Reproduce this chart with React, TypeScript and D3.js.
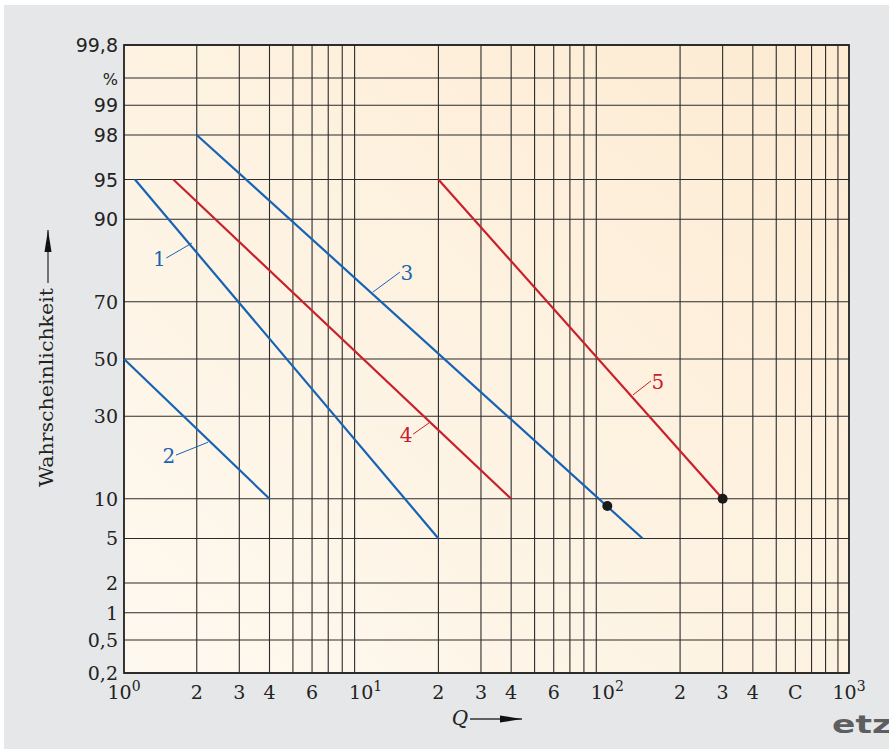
import React from "react";
import * as d3 from "d3";

// probability ticks (%) on the normal-probability axis
const yTicks = [0.2, 0.5, 1, 2, 5, 10, 30, 50, 70, 90, 95, 98, 99, 99.5, 99.8];
const yLabels = ["0,2", "0,5", "1", "2", "5", "10", "30", "50", "70", "90", "95", "98", "99", "%", "99,8"];
const xGrid = [2, 3, 4, 5, 6, 7, 8, 9, 20, 30, 40, 50, 60, 70, 80, 90, 200, 300, 400, 500, 600, 700, 800, 900];
const xTickVals = [1, 2, 3, 4, 6, 10, 20, 30, 40, 60, 100, 200, 300, 400, 600, 1000];
const xTickText = ["10^0", "2", "3", "4", "6", "10^1", "2", "3", "4", "6", "10^2", "2", "3", "4", "C", "10^3"];

// lines: [Q, %] endpoints, label and leader anchor in data units
const series = [
  { id: "1", color: "blue", pts: [[1.11, 95], [20, 5]], label: [1.4, 80.3], anchor: [1.91, 85.6] },
  { id: "2", color: "blue", pts: [[1, 50], [4, 10]], label: [1.535, 17], anchor: [2.23, 22.3] },
  { id: "3", color: "blue", pts: [[2, 98], [140, 5]], label: [14.8, 76.5], anchor: [10.7, 73] },
  { id: "4", color: "red", pts: [[1.6, 95], [40, 10]], label: [14.7, 22.3], anchor: [18.3, 27.9] },
  { id: "5", color: "red", pts: [[20, 95], [300, 10]], label: [162, 39.2], anchor: [127.7, 37.1] },
];
const dots = [[100, 8.9], [300, 10]];

const colors: Record<string, string> = { blue: "#1763b3", red: "#c8202c" };

// inverse normal CDF (Acklam)
function probit(p: number) {
  const a = [-39.69683028665376, 220.9460984245205, -275.9285104469687, 138.357751867269, -30.66479806614716, 2.506628277459239];
  const b = [-54.47609879822406, 161.5858368580409, -155.6989798598866, 66.80131188771972, -13.28068155288572];
  const c = [-0.007784894002430293, -0.3223964580411365, -2.400758277161838, -2.549732539343734, 4.374664141464968, 2.938163982698783];
  const d = [0.007784695709041462, 0.3224671290700398, 2.445134137142996, 3.754408661907416];
  const pl = 0.02425;
  if (p < pl) {
    const q = Math.sqrt(-2 * Math.log(p));
    return (((((c[0] * q + c[1]) * q + c[2]) * q + c[3]) * q + c[4]) * q + c[5]) / ((((d[0] * q + d[1]) * q + d[2]) * q + d[3]) * q + 1);
  }
  if (p > 1 - pl) {
    const q = Math.sqrt(-2 * Math.log(1 - p));
    return -(((((c[0] * q + c[1]) * q + c[2]) * q + c[3]) * q + c[4]) * q + c[5]) / ((((d[0] * q + d[1]) * q + d[2]) * q + d[3]) * q + 1);
  }
  const q = p - 0.5;
  const r = q * q;
  return ((((((a[0] * r + a[1]) * r + a[2]) * r + a[3]) * r + a[4]) * r + a[5]) * q) / (((((b[0] * r + b[1]) * r + b[2]) * r + b[3]) * r + b[4]) * r + 1);
}

const App = () => {
  const left = 124, right = 849, top = 45, bottom = 673;
  const x = d3.scaleLog().domain([1, 1000]).range([left, right]);
  const z = d3.scaleLinear().domain([probit(0.002), probit(0.998)]).range([bottom, top]);
  const y = (v: number) => z(probit(v / 100));
  const line = d3.line<number[]>().x((d) => x(d[0])).y((d) => y(d[1]));

  const serif = "'DejaVu Serif', serif";
  const sans = "'DejaVu Sans', sans-serif";

  return (
    <svg width={889} height={749} style={{ position: "fixed", left: 0, top: 0 }}>
      <defs>
        <linearGradient id="bg" x1="0" y1="1" x2="1" y2="0">
          <stop offset="0" stopColor="#fef9f0" />
          <stop offset="1" stopColor="#fdebd2" />
        </linearGradient>
        <marker id="ah" viewBox="0 0 22 8" refX="22" refY="4" markerWidth="22" markerHeight="8" markerUnits="userSpaceOnUse" orient="auto">
          <path d="M0,0.5 L22,4 L0,7.5 Z" fill="#111" />
        </marker>
      </defs>
      <rect width={889} height={749} fill="#fff" />
      <rect x={4} y={5} width={885} height={744} fill="#e6e7e9" />
      <rect x={left} y={top} width={right - left} height={bottom - top} fill="url(#bg)" />

      {xGrid.map((v, i) => (
        <line key={"vx" + i} x1={x(v)} x2={x(v)} y1={top} y2={bottom} stroke="#2b2b2b" strokeWidth={1.1} />
      ))}
      {yTicks.map((v, i) => (
        <line key={"hy" + i} x1={left} x2={right} y1={y(v)} y2={y(v)} stroke="#2b2b2b" strokeWidth={1.1} />
      ))}
      <rect x={left} y={top} width={right - left} height={bottom - top} fill="none" stroke="#222" strokeWidth={1.8} />

      {series.map((s) => {
        const lx = x(s.label[0]);
        const ly = y(s.label[1]);
        const ax = x(s.anchor[0]);
        const ay = y(s.anchor[1]);
        return (
          <g key={s.id}>
            <path d={line(s.pts) || ""} fill="none" stroke={colors[s.color]} strokeWidth={2.2} />
            <line x1={lx + (ax > lx ? 7 : -7)} y1={ly - 8} x2={ax} y2={ay} stroke={colors[s.color]} strokeWidth={1} />
            <text x={lx} y={ly} fill={colors[s.color]} fontFamily={serif} fontSize={20} textAnchor="middle">
              {s.id}
            </text>
          </g>
        );
      })}
      {dots.map((d, i) => (
        <circle key={"d" + i} cx={x(d[0])} cy={y(d[1])} r={5} fill="#1a1a1a" />
      ))}

      {yTicks.map((v, i) => (
        <text
          key={"yl" + i}
          x={left - 6}
          y={y(v) + 7}
          textAnchor="end"
          fontFamily={v >= 90 ? sans : serif}
          fontSize={v === 99.5 ? 16 : 19}
          fill="#222"
        >
          {yLabels[i]}
        </text>
      ))}
      {xTickVals.map((v, i) => {
        const parts = xTickText[i].split("^");
        return (
          <text key={"xl" + i} x={x(v)} y={699} textAnchor="middle" fontFamily={serif} fontSize={19} fill="#222">
            {parts[0]}
            {parts[1] !== undefined && (
              <tspan dy={-8} fontSize={14}>
                {parts[1]}
              </tspan>
            )}
          </text>
        );
      })}

      <text x={460} y={725} textAnchor="middle" fontFamily={serif} fontStyle="italic" fontSize={20} fill="#222">
        Q
      </text>
      <line x1={470} y1={719} x2={522} y2={719} stroke="#333" strokeWidth={1.3} markerEnd="url(#ah)" />

      <text
        transform="translate(53,387.5) rotate(-90)"
        textAnchor="middle"
        fontFamily={serif}
        fontSize={19}
        textLength={199}
        lengthAdjust="spacingAndGlyphs"
        fill="#222"
      >
        Wahrscheinlichkeit
      </text>
      <line x1={48} y1={283} x2={48} y2={230} stroke="#333" strokeWidth={1.3} markerEnd="url(#ah)" />

      <text
        x={832}
        y={733}
        fontFamily="'DejaVu Sans', sans-serif"
        fontWeight="bold"
        fontSize={25}
        textLength={60}
        lengthAdjust="spacingAndGlyphs"
        fill="#5d5e60"
      >
        etz
      </text>
    </svg>
  );
};

export default App;
